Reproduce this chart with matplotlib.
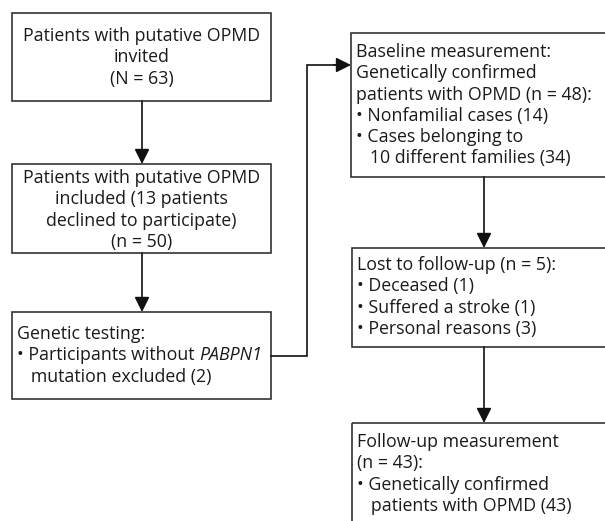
import matplotlib.pyplot as plt
from matplotlib.patches import Rectangle

plt.rcParams['font.family'] = ['Open Sans', 'DejaVu Sans']

FS = 12.8
LH = 21.3  # line height in px

# box texts (each entry is one line); a (plain, italic) pair marks italic words
box1 = ['Patients with putative OPMD', 'invited', '(N = 63)']
box2 = ['Patients with putative OPMD', 'included (13 patients', 'declined to participate)', '(n = 50)']
box3 = ['Genetic testing:', ('• Participants without ', 'PABPN1'), '   mutation excluded (2)']
box4 = ['Baseline measurement:', 'Genetically confirmed', 'patients with OPMD (n = 48):',
        '• Nonfamilial cases (14)', '• Cases belonging to', '   10 different families (34)']
box5 = ['Lost to follow-up (n = 5):', '• Deceased (1)', '• Suffered a stroke (1)', '• Personal reasons (3)']
box6 = ['Follow-up measurement', '(n = 43):', '• Genetically confirmed', '   patients with OPMD (43)']

# box geometry: x0, y0, x1, y1 (pixels, y down)
boxes = [
    (12, 13, 271, 101, box1, 'center', 36),
    (12, 164, 271, 253, box2, 'center', 178),
    (12, 312, 271, 399, box3, 'left', 334),
    (351, 33, 606, 177, box4, 'left', 52),
    (352, 248, 606, 347, box5, 'left', 265),
    (352, 423, 606, 530, box6, 'left', 442),
]

fig = plt.figure(figsize=(6.05, 5.21), dpi=100)
ax = fig.add_axes([0, 0, 1, 1])
ax.set_xlim(0, 605)
ax.set_ylim(521, 0)
ax.axis('off')
renderer = fig.canvas.get_renderer()

for x0, y0, x1, y1, lines, al, ty in boxes:
    ax.add_patch(Rectangle((x0, y0), x1 - x0, y1 - y0, fill=False, ec='#333333', lw=1.2))
    for i, s in enumerate(lines):
        y = ty + i * LH
        if al == 'center':
            ax.text((x0 + x1) / 2, y, s, ha='center', va='center', fontsize=FS, color='#1a1a1a')
        elif isinstance(s, tuple):
            t = ax.text(x0 + 5, y, s[0], ha='left', va='center', fontsize=FS, color='#1a1a1a')
            bb = t.get_window_extent(renderer)
            xe = ax.transData.inverted().transform((bb.x1, bb.y0))[0]
            ax.text(xe, y, s[1], ha='left', va='center', fontsize=FS, color='#1a1a1a', style='italic')
        else:
            ax.text(x0 + 5, y, s, ha='left', va='center', fontsize=FS, color='#1a1a1a')

arrow_kw = dict(arrowstyle='-|>,head_length=0.9,head_width=0.45', color='#111111', lw=1.2,
                shrinkA=0, shrinkB=0)

def arrow(x0, y0, x1, y1):
    ax.annotate('', xy=(x1, y1), xytext=(x0, y0), arrowprops=arrow_kw)

arrow(142, 101, 142, 164)
arrow(142, 253, 142, 312)
# connector from genetic testing to baseline
ax.plot([271, 307, 307, 335], [356, 356, 65, 65], color='#111111', lw=1.2, solid_joinstyle='miter')
arrow(334, 65, 351, 65)
arrow(484, 177, 484, 248)
arrow(484, 347, 484, 423)

fig.savefig('out.png', dpi=100)
